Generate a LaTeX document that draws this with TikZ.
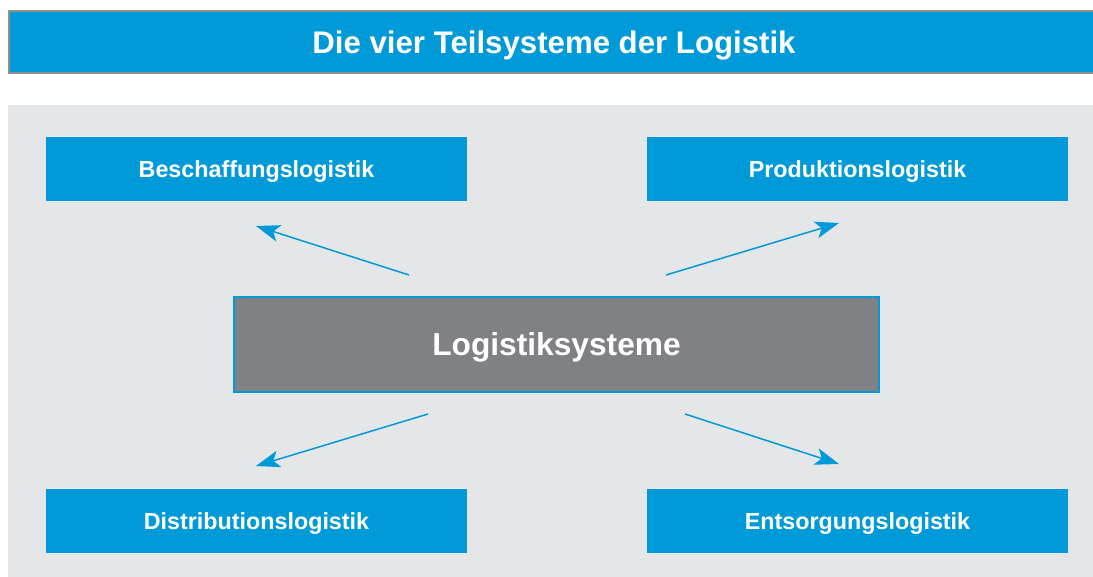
\documentclass[tikz,border=0pt]{standalone}
\usepackage{fontspec}
\setmainfont{Liberation Sans}
\usetikzlibrary{shapes,arrows.meta}
\definecolor{logblau}{HTML}{009AD8}
\definecolor{loggrau}{HTML}{808184}
\definecolor{loghell}{HTML}{E5E6E8}
\definecolor{logrand}{HTML}{8C8E90}
\tikzset{
  logBox/.style = {rectangle, align=center, inner sep=0pt, text=white, text depth=0pt,
    font=\bfseries\fontsize{23.3}{28}\selectfont},
  teil_n/.style = {logBox, fill=logblau, minimum width=421pt, minimum height=64pt},
    % Teilsystem, blauer Kasten
  kern_n/.style = {logBox, fill=loggrau, draw=logblau, line width=1.5pt,
    minimum width=645pt, minimum height=95pt, font=\bfseries\fontsize{31.7}{36}\selectfont},
  pfeil/.style = {->, draw=logblau, line width=1.5pt}
}

\begin{document}
\begin{tikzpicture}[x=1pt,y=-1pt,>={Stealth[length=24pt,width=17pt,inset=6pt]}]
\useasboundingbox (0,0) rectangle (1093,577);
\fill[loghell] (8,105) rectangle (1093,577);
\node[logBox, fill=logblau, draw=logrand, line width=2pt, minimum width=1090pt,
  minimum height=62pt, font=\bfseries\fontsize{31.2}{36}\selectfont, anchor=north west]
  (titel) at (8,10) {Die vier Teilsysteme der Logistik};

\node[teil_n] (besch) at (256.5,169) {Beschaffungslogistik};
\node[teil_n] (prod) at (857.5,169) {Produktionslogistik};
\node[kern_n] (kern) at (556.5,344.5) {Logistiksysteme};
\node[teil_n] (distr) at (256.5,521) {Distributionslogistik};
\node[teil_n] (entsg) at (857.5,521) {Entsorgungslogistik};

\coordinate (a1) at (409,275); \coordinate (b1) at (256,226);
\coordinate (a2) at (666,275); \coordinate (b2) at (839,223);
\coordinate (a3) at (428,414); \coordinate (b3) at (256,466);
\coordinate (a4) at (685,414); \coordinate (b4) at (839,464);
\draw[pfeil] (a1) -- (b1);
\draw[pfeil] (a2) -- (b2);
\draw[pfeil] (a3) -- (b3);
\draw[pfeil] (a4) -- (b4);
\end{tikzpicture}
\end{document}
